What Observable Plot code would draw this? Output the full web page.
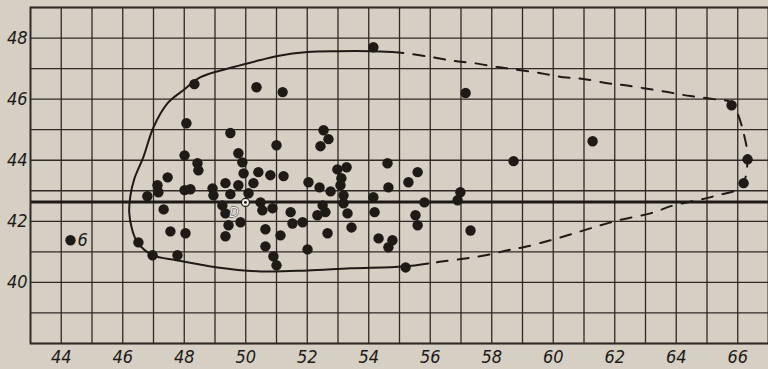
<!DOCTYPE html>
<html><head><meta charset="utf-8">
<script src="https://cdn.jsdelivr.net/npm/d3@7"></script>
<script src="https://cdn.jsdelivr.net/npm/@observablehq/plot@0.6"></script>
<style>
html,body{margin:0;padding:0;background:#d5cfc4;}
#chart svg{display:block;}
#chart svg text{font-style:italic;}
</style></head><body><div id="chart"></div>
<script>
// scattered observations
const ptX = [44.30,48.33,48.07,49.50,48.01,48.43,47.46,47.13,47.16,46.80,
  48.01,48.20,47.33,47.55,48.04,46.51,46.97,47.78,48.46,48.92,
  48.95,49.34,49.50,49.24,49.34,49.44,49.34,50.35,51.20,51.00,
  52.53,52.69,52.43,49.76,49.89,49.93,50.41,50.80,51.23,49.76,
  50.25,50.09,50.48,50.54,50.87,49.83,51.46,51.52,51.85,50.64,
  51.13,50.64,50.90,51.00,52.01,52.04,52.40,52.76,52.50,52.59,
  52.33,52.66,52.98,53.28,53.11,53.08,53.18,53.18,53.31,53.44,
  54.61,55.59,55.29,54.64,54.15,54.19,55.52,55.59,55.81,56.89,
  56.98,57.31,54.32,54.77,54.64,55.20,54.15,57.15,58.71,61.28,
  65.80,66.32,66.19];
const ptY = [41.38,46.49,45.21,44.89,44.16,43.90,43.44,43.18,42.95,42.82,
  43.02,43.05,42.39,41.67,41.61,41.31,40.89,40.89,43.67,43.08,
  42.85,43.25,42.89,42.52,42.26,41.87,41.51,46.39,46.23,44.49,
  44.98,44.69,44.46,44.23,43.93,43.57,43.61,43.51,43.48,43.18,
  43.25,42.92,42.62,42.36,42.43,41.97,42.30,41.93,41.97,41.74,
  41.54,41.18,40.85,40.56,41.08,43.28,43.11,42.98,42.52,42.30,
  42.20,41.61,43.70,43.77,43.41,43.18,42.85,42.59,42.26,41.80,
  43.90,43.61,43.28,43.11,42.79,42.30,42.20,41.87,42.62,42.69,
  42.95,41.70,41.44,41.38,41.15,40.49,47.70,46.20,43.97,44.62,
  45.80,44.03,43.25];

// solid envelope
const solidX = [55.94,55.13,53.41,52.01,50.48,49.08,47.78,46.97,46.48,46.30,46.21,46.25,46.38,46.67,47.00,47.46,47.98,48.53,49.60,50.48,51.03,52.01,52.98,54.06,54.77];
const solidY = [40.62,40.52,40.46,40.39,40.36,40.49,40.72,40.89,41.31,41.75,42.30,42.85,43.40,44.10,45.08,45.87,46.30,46.72,47.05,47.28,47.41,47.54,47.57,47.57,47.54];

// dashed envelope
const dashX = [54.77,55.13,56.01,56.76,57.41,58.19,58.71,59.59,60.33,60.98,61.76,62.28,62.93,63.72,64.46,65.21,65.76,65.99,66.19,66.32,66.32,66.28,66.19,66.09,65.34,64.69,63.91,63.16,62.28,61.54,60.79,59.91,59.03,58.51,57.96,57.21,56.43,55.94];
const dashY = [47.54,47.51,47.38,47.25,47.18,47.05,46.98,46.85,46.72,46.66,46.52,46.46,46.36,46.23,46.10,46.00,45.90,45.54,44.89,44.23,44.03,43.57,43.25,43.08,42.85,42.69,42.52,42.26,42.07,41.87,41.64,41.38,41.15,41.05,40.92,40.79,40.69,40.62];

const refLineY = [42.63];
const centerX = [49.99], centerY = [42.62];
const labelText = ["6", "D"];
const labelX = [44.30, 49.62];
const labelY = [41.38, 42.30];

const xTicks = [44,46,48,50,52,54,56,58,60,62,64,66];
const yTicks = [40,42,44,46,48];
const xGrid = [43,44,45,46,47,48,49,50,51,52,53,54,55,56,57,58,59,60,61,62,63,64,65,66,67];
const yGrid = [38,39,40,41,42,43,44,45,46,47,48,49];

const ink = "#1e1b17";
const pts = ptX.map((x, i) => ({x, y: ptY[i]}));
const solid = solidX.map((x, i) => ({x, y: solidY[i]}));
const dashed = dashX.map((x, i) => ({x, y: dashY[i]}));
const center = centerX.map((x, i) => ({x, y: centerY[i]}));
const labels = labelText.map((t, i) => ({t, x: labelX[i], y: labelY[i]}));

const chart = Plot.plot({
  width: 768, height: 369,
  marginLeft: 30, marginRight: 0, marginTop: 7, marginBottom: 26,
  style: "background:#d5cfc4;font-family:'DejaVu Sans Condensed','DejaVu Sans',sans-serif;font-style:italic;color:#1e1b17;",
  x: {domain: [43, 67]},
  y: {domain: [38, 49]},
  marks: [
    Plot.ruleX(xGrid, {stroke: "#2e2a24", strokeWidth: 1.3, strokeOpacity: 1}),
    Plot.ruleY(yGrid, {stroke: "#2e2a24", strokeWidth: 1.3, strokeOpacity: 1}),
    Plot.ruleY(refLineY, {stroke: ink, strokeWidth: 3}),
    Plot.frame({stroke: "#2e2a24", strokeWidth: 1.8}),
    Plot.line(solid, {x: "x", y: "y", stroke: ink, strokeWidth: 2, curve: "catmull-rom"}),
    Plot.line(dashed, {x: "x", y: "y", stroke: ink, strokeWidth: 2, strokeDasharray: "11,10", curve: "catmull-rom"}),
    Plot.dot(pts, {x: "x", y: "y", r: 5.2, fill: ink, stroke: "none"}),
    Plot.dot(center, {x: "x", y: "y", r: 4, fill: "#f2efe8", stroke: ink, strokeWidth: 1.2}),
    Plot.dot(center, {x: "x", y: "y", r: 1.4, fill: ink}),
    Plot.text(labels.slice(0,1), {x: "x", y: "y", text: "t", dx: 7, textAnchor: "start", fontSize: 18, fill: ink, fontStyle: "italic"}),
    Plot.text(labels.slice(1), {x: "x", y: "y", text: "t", textAnchor: "middle", fontSize: 14, fill: "#f2efe8", stroke: ink, strokeWidth: 0.8, fontStyle: "italic"}),
    Plot.axisX(xTicks, {tickSize: 0, tickPadding: 7, fontSize: 18, fill: ink, label: null, fontStyle: "italic"}),
    Plot.axisY(yTicks, {tickSize: 0, tickPadding: 3, fontSize: 18, fill: ink, label: null, fontStyle: "italic"})
  ]
});
document.getElementById("chart").append(chart);
</script></body></html>
